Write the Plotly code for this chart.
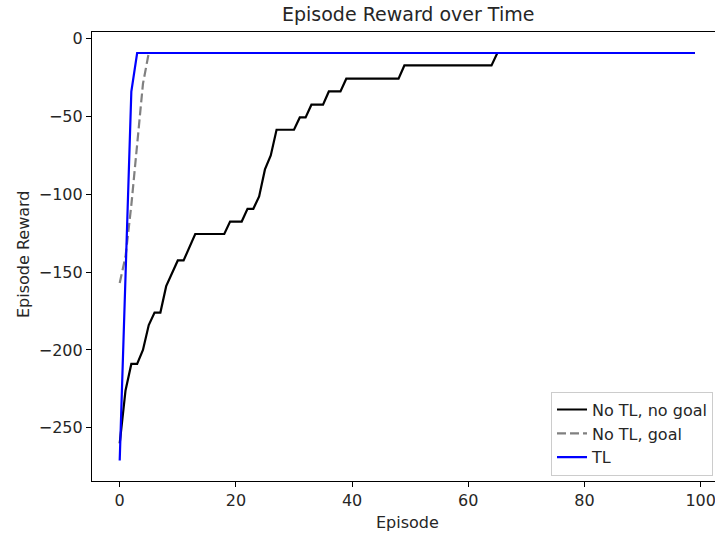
import plotly.graph_objects as go

episodes = list(range(100))

no_tl_no_goal = ([-260, -226, -209, -209, -200, -184, -176, -176, -159, -151,
                  -142.5, -142.5, -134] + [-125.5] * 6 + [-117.5] * 3 +
                 [-109.3, -109.3, -101.4, -84, -75] + [-58.5] * 4 +
                 [-50.6] * 2 + [-42.4] * 3 + [-33.9] * 3 + [-25.7] * 10 +
                 [-17.2] * 16 + [-9.2] * 35)

no_tl_goal = [-157, -140, -107, -66, -29] + [-9.2] * 95

tl = [-271, -153, -34] + [-9.2] * 97

xtick_vals = [0, 20, 40, 60, 80, 100]
xtick_text = ["0", "20", "40", "60", "80", "100"]
ytick_vals = [0, -50, -100, -150, -200, -250]
ytick_text = ["0", "\u221250", "\u2212100", "\u2212150", "\u2212200", "\u2212250"]

FONT = "DejaVu Sans"

fig = go.Figure()
fig.add_trace(go.Scatter(x=episodes, y=no_tl_no_goal, mode="lines", name="No TL, no goal",
                         line=dict(color="#000000", width=2.2)))
fig.add_trace(go.Scatter(x=episodes, y=no_tl_goal, mode="lines", name="No TL, goal",
                         line=dict(color="#808080", width=2.2, dash="9px,4px")))
fig.add_trace(go.Scatter(x=episodes, y=tl, mode="lines", name="TL",
                         line=dict(color="#0000ff", width=2.2)))

W, H = 715, 536
L, T, B = 92, 32, 55
fig.update_layout(
    width=W, height=H,
    margin=dict(l=L, r=0, t=T, b=B, pad=0, autoexpand=False),
    paper_bgcolor="white", plot_bgcolor="white",
    font=dict(family=FONT, size=16, color="#262626"),
    showlegend=True,
    legend=dict(x=0.9968, y=0.012, xanchor="right", yanchor="bottom",
                bgcolor="rgba(255,255,255,0.8)", bordercolor="#cccccc", borderwidth=1,
                font=dict(family=FONT, size=16, color="#262626"),
                tracegroupgap=0, entrywidth=125),
    xaxis=dict(range=[-4.77, 102.47], tickvals=xtick_vals, ticktext=xtick_text,
               automargin=False, ticklabeloverflow="allow",
               showgrid=False, zeroline=False, showline=True, linecolor="black",
               linewidth=1.2, mirror=True, ticks="outside", ticklen=5, tickwidth=1.2,
               tickcolor="black", tickfont=dict(family=FONT, size=16, color="#262626")),
    yaxis=dict(range=[-284.2, 4.3], tickvals=ytick_vals, ticktext=ytick_text,
               automargin=False,
               showgrid=False, zeroline=False, showline=True, linecolor="black",
               linewidth=1.2, mirror=False, ticks="outside", ticklen=5, tickwidth=1.2,
               tickcolor="black", tickfont=dict(family=FONT, size=16, color="#262626")),
)

plot_w = W - L
plot_h = H - T - B
fig.add_annotation(text="Episode Reward over Time", xref="paper", yref="paper",
                   x=(408 - L) / plot_w, y=1, xanchor="center", yanchor="bottom",
                   yshift=5, showarrow=False, font=dict(family=FONT, size=19, color="#262626"))
fig.add_annotation(text="Episode", xref="paper", yref="paper",
                   x=(407 - L) / plot_w, y=(H - B - 522) / plot_h, xanchor="center",
                   yanchor="middle", showarrow=False,
                   font=dict(family=FONT, size=16, color="#262626"))
fig.add_annotation(text="Episode Reward", xref="paper", yref="paper",
                   x=(23 - L) / plot_w, y=(H - B - 254) / plot_h, xanchor="center",
                   yanchor="middle", textangle=-90, showarrow=False,
                   font=dict(family=FONT, size=16, color="#262626"))

fig.write_html("out.html", config={"displayModeBar": False},
               post_script="document.body.style.margin='0';document.body.style.overflow='hidden';")
